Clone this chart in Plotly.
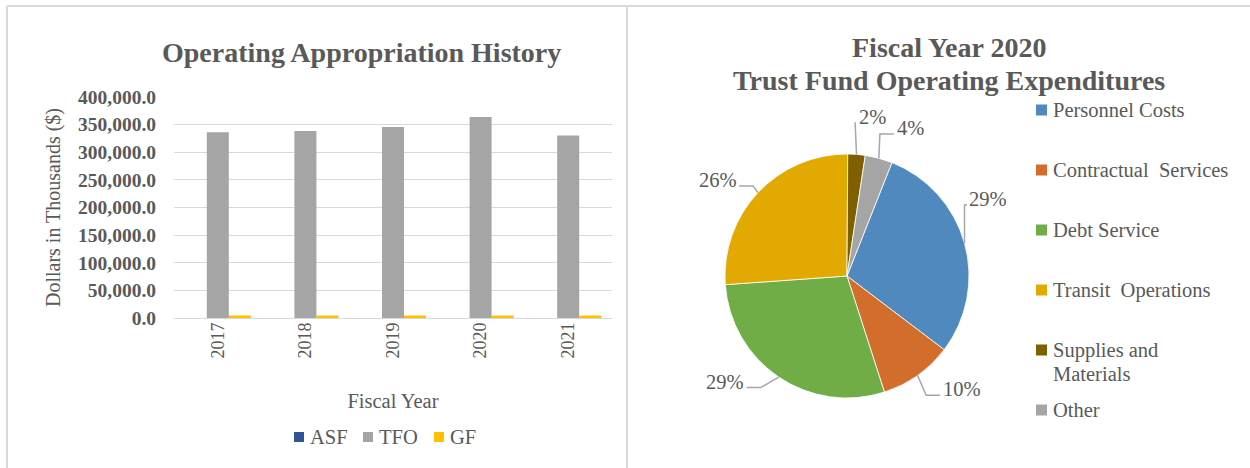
import math
import plotly.graph_objects as go

W, H = 1250, 468

# ---------------- data ----------------
years = ["2017", "2018", "2019", "2020", "2021"]
asf_values = [0, 0, 0, 0, 0]
tfo_values = [336100, 338500, 345700, 363800, 330100]
gf_values = [4500, 4500, 4500, 4500, 4500]
bar_series = ["ASF", "TFO", "GF"]

pie_labels = ["Personnel Costs", "Contractual\u00a0 Services", "Debt Service",
              "Transit\u00a0 Operations", "Supplies and Materials", "Other"]
pie_values = [29.3, 9.7, 28.8, 26.2, 2.3, 3.6]

# ---------------- style ----------------
FONT = "Liberation Serif"
TXT = "#595959"
GRID = "#d9d9d9"
bar_colors = ["#2f5597", "#a5a5a5", "#ffc000"]
pie_colors = ["#4f89bd", "#d36d2c", "#70ad47", "#e2a900", "#7f6000", "#a5a5a5"]
LEADER = "#a6a6a6"

def px(x):
    return x / W

def py(y):
    return 1 - y / H

# bar plot area (pixels)
BX0, BX1, BY0, BY1 = 174, 612, 97, 318
# pie geometry (pixels)
CX, CY, R = 847, 276, 122
ROT = 21.6
LABEL_R = 1.32
label_nudge = [-13, -10, 15, -6.5, 4.5, 8]

fig = go.Figure()
for name, vals, col in zip(bar_series, [asf_values, tfo_values, gf_values], bar_colors):
    fig.add_trace(go.Bar(x=years, y=vals, name=name, marker_color=col,
                         marker_line_width=0, showlegend=False))

fig.add_trace(go.Pie(labels=pie_labels, values=pie_values, sort=False,
                     direction="clockwise", rotation=ROT,
                     marker=dict(colors=pie_colors, line=dict(color="white", width=0.8)),
                     textinfo="none", hoverinfo="label+percent", showlegend=False,
                     domain=dict(x=[px(CX - R), px(CX + R)], y=[py(CY + R), py(CY - R)])))

fig.update_layout(
    width=W, height=H,
    margin=dict(l=0, r=0, t=0, b=0, pad=0, autoexpand=False),
    showlegend=False,
    paper_bgcolor="white", plot_bgcolor="white",
    barmode="group", bargap=0.246, bargroupgap=0,
    font=dict(family=FONT, color=TXT, size=20),
    xaxis=dict(domain=[px(BX0), px(BX1)], tickangle=-90, showgrid=False, automargin=False,
               tickfont=dict(size=18, color=TXT), ticks="", showline=False,
               title=dict(text="Fiscal Year", font=dict(size=20.5, color=TXT), standoff=36)),
    yaxis=dict(domain=[py(BY1), py(BY0)], range=[0, 400000], dtick=50000, automargin=False,
               tickformat=",.1f", showgrid=True, gridcolor=GRID, gridwidth=1.3,
               zeroline=True, zerolinecolor=GRID, zerolinewidth=1.3,
               tickfont=dict(size=19.5, color=TXT, weight="bold"), ticklabelstandoff=17,
               title=dict(text="Dollars in Thousands ($)", font=dict(size=20, color=TXT), standoff=12)),
)

shapes = []
annotations = []

def note(text, x, y, size=20.5, xa="center", ya="middle"):
    annotations.append(dict(text=text, x=px(x), y=py(y), xref="paper", yref="paper",
                            xanchor=xa, yanchor=ya, showarrow=False,
                            font=dict(size=size, color=TXT, family=FONT)))

# panel borders
for (x0, y0, x1, y1) in [(7, 6, W, 6), (7, 6, 7, H), (627, 6, 627, H)]:
    shapes.append(dict(type="line", xref="paper", yref="paper", x0=px(x0), y0=py(y0),
                       x1=px(x1), y1=py(y1), line=dict(color=GRID, width=2)))

# titles
note("<b>Operating Appropriation History</b>", 361, 52, size=28)
note("<b>Fiscal Year 2020</b>", 949, 48, size=28)
note("<b>Trust Fund Operating Expenditures</b>", 949, 80, size=28)

# bar legend (manual)
leg_sw_x = [294, 363, 434]
LEG_Y = 437
for name, col, sx in zip(bar_series, bar_colors, leg_sw_x):
    shapes.append(dict(type="rect", xref="paper", yref="paper", x0=px(sx), x1=px(sx + 10),
                       y0=py(LEG_Y + 5), y1=py(LEG_Y - 5), fillcolor=col, line=dict(width=0)))
    note(name, sx + 14, LEG_Y, xa="left")

# pie legend (manual)
PL_X = 1036
pl_y0, pl_dy = 110, 60
for i, (lab, col) in enumerate(zip(pie_labels, pie_colors)):
    yy = pl_y0 + i * pl_dy
    shapes.append(dict(type="rect", xref="paper", yref="paper", x0=px(PL_X), x1=px(PL_X + 11),
                       y0=py(yy + 5.5), y1=py(yy - 5.5), fillcolor=col, line=dict(width=0)))
    lines = ["Supplies and", "Materials"] if lab == "Supplies and Materials" else [lab]
    for j, t in enumerate(lines):
        note(t, PL_X + 15, yy + j * 23.5, xa="left")

# pie data labels with leader lines
total = sum(pie_values)
em = {"0": .5, "1": .5, "2": .5, "3": .5, "4": .5, "5": .5, "6": .5, "7": .5, "8": .5, "9": .5, "%": .833}
cum = 0.0
for v, nud in zip(pie_values, label_nudge):
    mid = math.radians(ROT + 360 * (cum + v / 2) / total)
    cum += v
    txt = f"{round(100 * v / total)}%"
    p0 = (CX + R * math.sin(mid), CY - R * math.cos(mid))
    la = mid + math.radians(nud)
    lx, ly = CX + LABEL_R * R * math.sin(la), CY - LABEL_R * R * math.cos(la)
    halfw = 0.5 * 20 * sum(em[c] for c in txt)
    d = 1 if lx > p0[0] else -1
    p2 = (lx - d * (halfw + 3), ly + 6)
    p1 = (p2[0] - d * min(14, abs(p0[0] - p2[0])), p2[1])
    path = f"M {px(p0[0])} {py(p0[1])} L {px(p1[0])} {py(p1[1])} L {px(p2[0])} {py(p2[1])}"
    shapes.append(dict(type="path", xref="paper", yref="paper", path=path,
                       line=dict(color=LEADER, width=1.5)))
    note(txt, lx, ly)

fig.update_layout(shapes=shapes, annotations=annotations)
fig.write_html("out.html", config={"displayModeBar": False},
               post_script="document.body.style.margin='0px';")
